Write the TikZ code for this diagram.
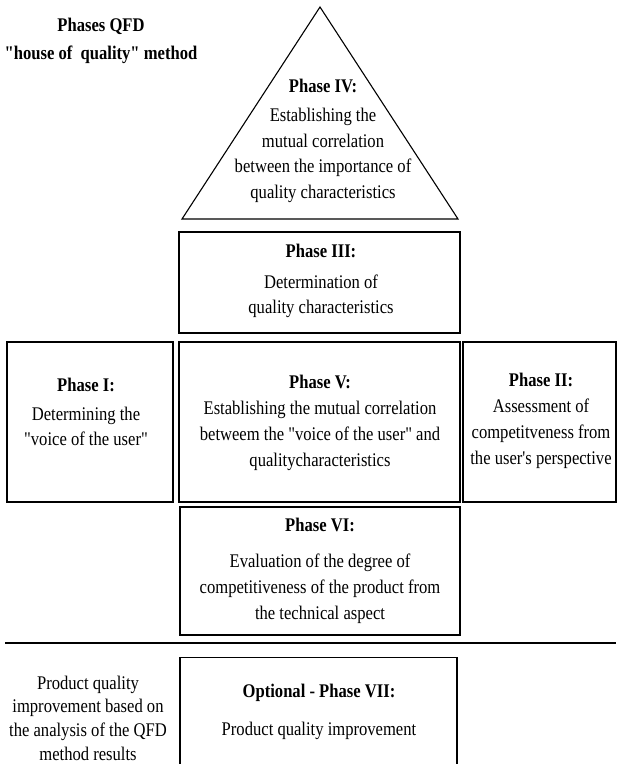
\documentclass[tikz,border=0pt]{standalone}
\usepackage{fontspec}
\setmainfont[FakeStretch=0.86, Ligatures=TeXOff]{Liberation Serif}
\begin{document}
\begin{tikzpicture}[x=1pt,y=-1pt,
  box/.style={draw, line width=1.1pt, inner sep=0pt, outer sep=0pt},
  txt/.style={align=center, inner sep=0pt, font=\fontsize{19.3}{25.8}\selectfont},
  ttl/.style={align=center, inner sep=0pt, font=\fontsize{19.3}{28}\selectfont\bfseries}]
\useasboundingbox (0,0) rectangle (617,764);

% title
\node[ttl] (title) at (101,41) {Phases QFD\\ "house of~ quality" method};

% roof triangle
\coordinate (apex) at (320,7);
\coordinate (bl) at (182,219);
\coordinate (br) at (458,219);
\draw[line width=1.1pt, line join=miter] (apex) -- (bl) -- (br) -- cycle;
\node[txt] (t4) at (323,141) {\textbf{Phase IV:}\\[3pt] Establishing the\\ mutual correlation\\ between the importance of\\ quality characteristics};

% boxes
\node[box, minimum width=281, minimum height=101] (b3) at (319.5,282.5) {};
\node[box, minimum width=166, minimum height=160] (b1) at (90,422) {};
\node[box, minimum width=281, minimum height=160] (b5) at (319.5,422) {};
\node[box, minimum width=153, minimum height=160] (b2) at (539.5,422) {};
\node[box, minimum width=280, minimum height=128] (b6) at (320,571) {};
\node[box, minimum width=277, minimum height=115] (b7) at (318.5,715) {};

\node[txt] (t3) at (321,281) {\textbf{Phase III:}\\[5pt] Determination of\\ quality characteristics};
\node[txt] (t1) at (86,412) {\textbf{Phase I:}\\[3pt] Determining the\\ "voice of the user"};
\node[txt] (t5) at (320,423) {\textbf{Phase V:}\\ Establishing the mutual correlation\\ betweem the "voice of the user" and\\ qualitycharacteristics};
\node[txt] (t2) at (541,421) {\textbf{Phase II:}\\ Assessment of\\ competitveness from\\ the user's perspective};
\node[txt] (t6) at (320,571) {\textbf{Phase VI:}\\[10pt] Evaluation of the degree of\\ competitiveness of the product from\\ the technical aspect};

% separator
\coordinate (l1) at (5,643);
\coordinate (l2) at (616,643);
\draw[line width=1.3pt] (l1) -- (l2);

\node[txt] (t7) at (319,712) {\textbf{Optional - Phase VII:}\\[12pt] Product quality improvement};
\node[txt, font=\fontsize{19.3}{23.7}\selectfont] (tl) at (88,718) {Product quality\\ improvement based on\\ the analysis of the QFD\\ method results};
\end{tikzpicture}
\end{document}
